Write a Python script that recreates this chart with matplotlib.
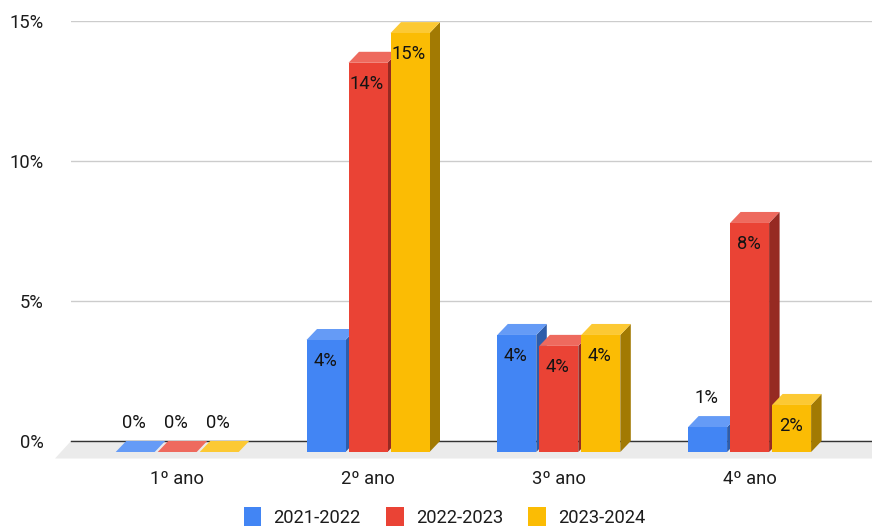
import matplotlib
matplotlib.use('Agg')
import matplotlib.pyplot as plt
from matplotlib.patches import Patch

plt.rcParams['font.family'] = ['Roboto', 'DejaVu Sans']

categories = ['1º ano', '2º ano', '3º ano', '4º ano']
series_names = ['2021-2022', '2022-2023', '2023-2024']
values_2021 = [0, 4.0, 4.18, 0.89]
values_2022 = [0, 13.9, 3.79, 8.18]
values_2023 = [0, 14.96, 4.18, 1.68]
y_ticks = [0, 5, 10, 15]

front_colors = ['#4285F4', '#EA4335', '#FBBC04']
top_colors = ['#659BF6', '#EE6A5E', '#FCC934']
side_colors = ['#2E5DAA', '#962A22', '#A27A03']

W, H = 872, 526
AX_LEFT, AX_RIGHT, AX_TOP, AX_BOTTOM = 71, 872, 21, 441
PX_PER_CAT = 190.8
PX_PER_PCT = 28.0
FIRST_CENTER = 177.2
FONT = 13.2

# sizes in data units
bar_w = 39 / PX_PER_CAT
bar_step = 42 / PX_PER_CAT
depth_x = 10.5 / PX_PER_CAT
depth_y = 11 / PX_PER_PCT

fig = plt.figure(figsize=(W / 100, H / 100), dpi=100)
ax = fig.add_axes([AX_LEFT / W, 1 - AX_BOTTOM / H, (AX_RIGHT - AX_LEFT) / W, (AX_BOTTOM - AX_TOP) / H])
ax.set_xlim((AX_LEFT - FIRST_CENTER) / PX_PER_CAT, (AX_RIGHT - FIRST_CENTER) / PX_PER_CAT)
ax.set_ylim(0, 15)

for spine in ax.spines.values():
    spine.set_visible(False)

ax.set_yticks(y_ticks)
ax.set_yticklabels([f'{t}%' for t in y_ticks], fontsize=FONT, color='#1C1C1C')
ax.set_xticks(range(len(categories)))
ax.set_xticklabels(categories, fontsize=FONT, color='#1C1C1C')
ax.tick_params(axis='y', length=0, pad=19.5)
ax.tick_params(axis='x', length=0, pad=21)
ax.grid(True, axis='y', color='#CCCCCC', linewidth=1.0, zorder=1)
ax.grid(False, axis='x')
ax.set_axisbelow(True)

# floor of the 3d box
x0, x1 = ax.get_xlim()
floor_dx = 16 / PX_PER_CAT
floor_dy = 17.5 / PX_PER_PCT
ax.fill([x0, x1 + floor_dx, x1, x0 - floor_dx], [0, 0, -floor_dy, -floor_dy],
        color='#EBEBEB', linewidth=0, clip_on=False, zorder=2)
ax.plot([x0, x1], [0, 0], color='#333333', linewidth=1.0, clip_on=False, zorder=3)

all_values = [values_2021, values_2022, values_2023]
zorder = 4
for c in range(len(categories)):
    for s, vals in enumerate(all_values):
        v = vals[c]
        left = c + (s - 1) * bar_step - bar_w / 2
        right = left + bar_w
        top = v - depth_y
        bottom = -depth_y
        # side, top, then the front face over them
        if v > 0:
            ax.fill([right, right + depth_x, right + depth_x, right],
                    [bottom, 0, v, top],
                    color=side_colors[s], linewidth=0, clip_on=False, zorder=zorder)
        ax.fill([left, right, right + depth_x, left + depth_x],
                [top, top, v, v],
                color=top_colors[s], linewidth=0, clip_on=False, zorder=zorder)
        ax.bar(left + bar_w / 2, v, bar_w, bottom=bottom, color=front_colors[s],
               linewidth=0, clip_on=False, zorder=zorder)
        # small bars get the label above, others inside
        offset = 21 if v < 1 else -15.2
        ax.annotate(f'{v:.0f}%', (left + bar_w / 2, top), xytext=(-0.7, offset),
                    textcoords='offset points', ha='center', va='center',
                    fontsize=FONT, color='#141414', zorder=100, annotation_clip=False)
        zorder += 1

handles = [Patch(facecolor=col, linewidth=0) for col in front_colors]
fig.legend(handles, series_names, ncol=3, loc='center', bbox_to_anchor=(444.5 / W, 1 - 517 / H),
           frameon=False, fontsize=FONT, handlelength=0.98, handleheight=1.2, handletextpad=0.65,
           columnspacing=1.38, borderpad=0, labelcolor='#1C1C1C')

plt.savefig('out.png', dpi=100)
plt.close(fig)
